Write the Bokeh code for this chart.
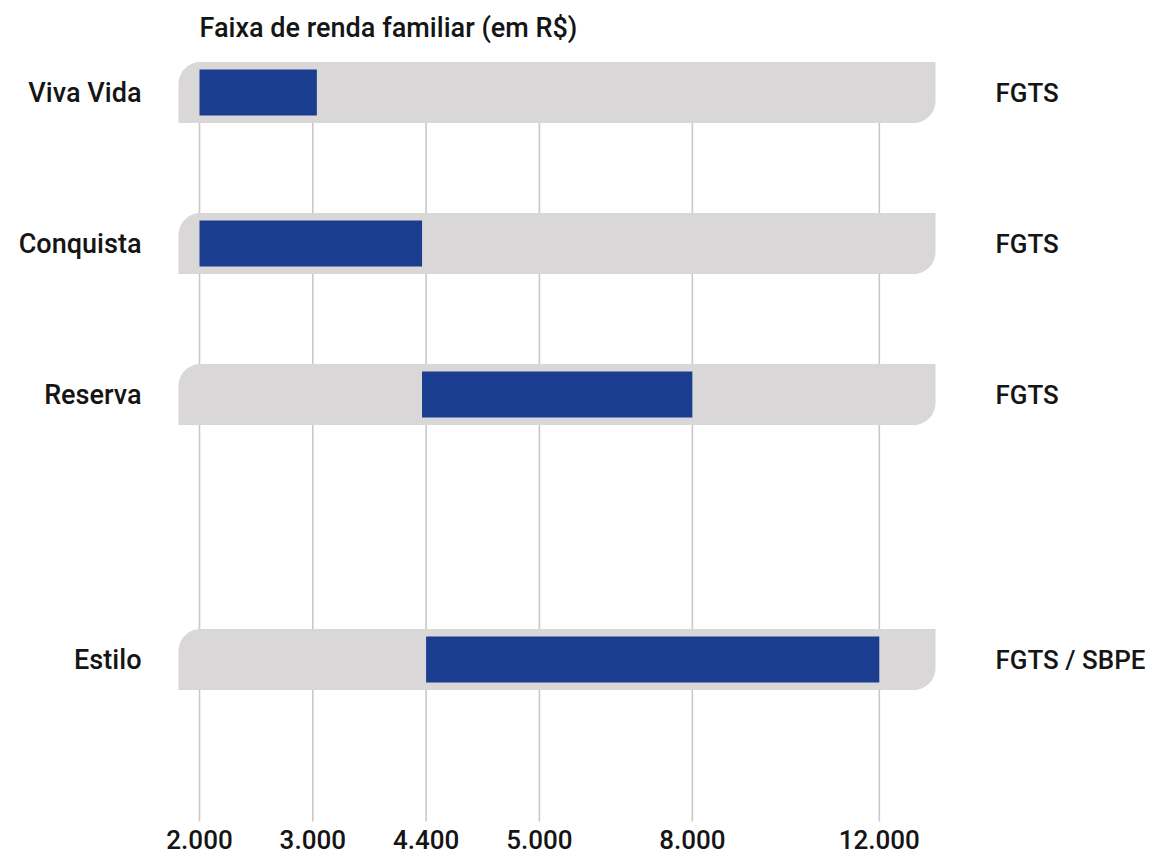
import numpy as np
from bokeh.plotting import figure
from bokeh.models import Range1d, ColumnDataSource
from bokeh.core.properties import value
from bokeh.embed import file_html
from bokeh.resources import INLINE

# ---------------- data ----------------
chart_title = "Faixa de renda familiar (em R$)"
programs = ["Viva Vida", "Conquista", "Reserva", "Estilo"]
income_min = [2000, 2000, 4350, 4400]
income_max = [3050, 4350, 8000, 12000]
funding = ["FGTS", "FGTS", "FGTS", "FGTS / SBPE"]
tick_values = [2000, 3000, 4400, 5000, 8000, 12000]
tick_labels = ["2.000", "3.000", "4.400", "5.000", "8.000", "12.000"]

# ---------------- layout ----------------
W, H = 1157, 857
tick_slots = [0, 1, 2, 3, 4.35, 6.0]      # non-linear axis: slot position of each tick
row_pos = [0, 1, 2, 3.755]                 # vertical slot of each programme
PX_SLOT = 113.3                            # pixels per x slot
PX_ROW = 151.0                             # pixels per row
X0 = 199.0                                 # pixel of slot 0
Y0 = 92.0                                  # pixel of row 0
BAND_L = -21 / PX_SLOT
BAND_R = (935 - X0) / PX_SLOT
BAND_H = 61 / PX_ROW
BAR_H = 46 / PX_ROW
RX, RY = 22 / PX_SLOT, 22 / PX_ROW        # corner radius


def to_slot(v):
    return np.interp(v, tick_values, tick_slots)


def band_shape(r):
    T, B = r - BAND_H / 2, r + BAND_H / 2
    t1 = np.linspace(np.pi, 1.5 * np.pi, 16)
    t2 = np.linspace(0, 0.5 * np.pi, 16)
    xs = list(BAND_L + RX + RX * np.cos(t1)) + [BAND_R] + \
        list(BAND_R - RX + RX * np.cos(t2)) + [BAND_L]
    ys = list(T + RY + RY * np.sin(t1)) + [T] + \
        list(B - RY + RY * np.sin(t2)) + [B]
    return xs, ys


FONT = value("Roboto Medium, Roboto")
TXT = "#151515"
FS = "27px"

p = figure(width=W, height=H, min_border=0,
           x_range=Range1d(-X0 / PX_SLOT, (W - X0) / PX_SLOT),
           y_range=Range1d((H - Y0) / PX_ROW, -Y0 / PX_ROW),
           x_axis_location=None, y_axis_location=None,
           toolbar_location=None, output_backend="svg")
p.outline_line_color = None
p.grid.visible = False
p.background_fill_color = "white"

# vertical grid lines
p.segment(x0=tick_slots, x1=tick_slots,
          y0=[-0.2] * len(tick_slots), y1=[(821 - Y0) / PX_ROW] * len(tick_slots),
          line_color="#c9c9c9", line_width=1.6)

# grey background bands (top-left and bottom-right rounded)
shapes = [band_shape(r) for r in row_pos]
p.patches(xs=[s[0] for s in shapes], ys=[s[1] for s in shapes],
          fill_color="#d9d7d8", line_color=None)

# blue range bars
src = ColumnDataSource(dict(y=row_pos, left=to_slot(income_min), right=to_slot(income_max),
                            name=programs, fund=funding))
p.hbar(y="y", left="left", right="right", height=BAR_H, source=src,
       fill_color="#1b3d8f", line_color=None)

# programme labels (left)
p.text(x=[(141 - X0) / PX_SLOT] * len(programs), y=row_pos, text=programs,
       text_font=FONT, text_font_size=FS,
       text_align="right", text_baseline="middle", text_color=TXT)

# funding labels (right)
p.text(x=[(995 - X0) / PX_SLOT] * len(funding), y=row_pos, text=funding,
       text_font=FONT, text_font_size="26px",
       text_align="left", text_baseline="middle", text_color=TXT)

# tick labels (bottom)
p.text(x=tick_slots, y=[(839 - Y0) / PX_ROW] * len(tick_slots), text=tick_labels,
       text_font=FONT, text_font_size="26px",
       text_align="center", text_baseline="middle", text_color=TXT)

# title
p.text(x=[0], y=[(27 - Y0) / PX_ROW], text=[chart_title],
       text_font=FONT, text_font_size="27px",
       text_align="left", text_baseline="middle", text_color=TXT)

open("out.html", "w").write(file_html(p, INLINE))
